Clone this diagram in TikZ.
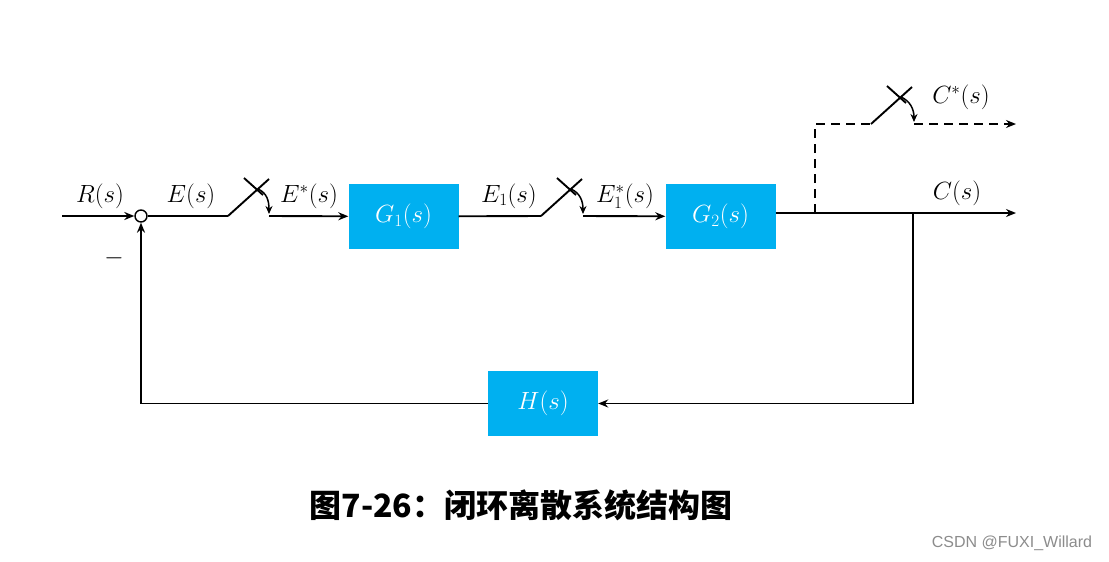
\documentclass[tikz,border=0pt]{standalone}
\usepackage{fontspec}
\newfontfamily\cjk{Noto Sans CJK SC}
\newfontfamily\wmfont{Liberation Sans}
\usetikzlibrary{arrows.meta, positioning, calc}
\definecolor{boxblue}{RGB}{0,176,240}

\begin{document}
\begin{tikzpicture}[
    x=1pt, y=-1pt,
    block/.style={rectangle, fill=boxblue, minimum width=110pt, minimum height=65pt, text=white, font=\fontsize{25}{29}\selectfont},
    lbl/.style={font=\fontsize{25}{29}\selectfont},
    sum/.style={draw, circle, line width=1.4pt, minimum size=12pt, inner sep=0pt},
    line/.style={line width=1.9pt},
    arrow/.style={-{Stealth[length=10pt,width=8pt]}, line width=1.9pt},
    swarrow/.style={-{Stealth[length=8pt,width=7pt]}, line width=1.5pt},
    dashline/.style={dash pattern=on 9pt off 6pt}
]
    \fill[white] (0,0) rectangle (1109,562);
    \useasboundingbox (0,0) rectangle (1109,562);

    % Nodes
    \node[sum] (sum) at (141,216) {};
    \node[block] (g1) at (403.5,216.5) {$G_1(s)$};
    \node[block] (g2) at (720.5,216.5) {$G_2(s)$};
    \node[block] (h) at (543,403.5) {$H(s)$};

    \coordinate (in) at (62,216);
    \coordinate (sw1-a) at (228,216);
    \coordinate (sw1-b) at (269,216);
    \coordinate (sw2-a) at (541,216);
    \coordinate (sw2-b) at (583,216);
    \coordinate (sw3-a) at (871,124);
    \coordinate (sw3-b) at (914,124);
    \coordinate (br) at (815,213);
    \coordinate (fb) at (913,213);
    \coordinate (out) at (1016,213);
    \coordinate (cstar) at (1016,124);

    % Samplers
    \foreach \s in {sw1,sw2,sw3} {
        \draw[line] (\s-a) -- ++(41,-37);
        \draw[line] ($(\s-a)+(16,-38)$) -- ++(19,17);
        \draw[swarrow] ($(\s-a)+(30,-27)$) .. controls ($(\s-a)+(39,-23)$) and ($(\s-b)+(0,-15)$) .. ($(\s-b)+(0,-2)$);
    }

    % Connections
    \draw[arrow] (in) -- (sum);
    \draw[line] (sum) -- (sw1-a);
    \draw[arrow] (sw1-b) -- (g1);
    \draw[line] (g1) -- (sw2-a);
    \draw[arrow] (sw2-b) -- (g2);
    \draw[arrow] (g2.east |- out) -- (out);
    \draw[line, dashline] (br) |- (sw3-a);
    \draw[arrow, dashline] (sw3-b) -- (cstar);
    \draw[arrow] (fb) |- (h);
    \draw[arrow] (h) -| (sum);

    % Labels
    \node[lbl] (rlbl) at (100,196) {$R(s)$};
    \node[lbl] (minus) at (114,258) {$-$};
    \node[lbl] (elbl) at (191,196) {$E(s)$};
    \node[lbl] (estar) at (309,196) {$E^*(s)$};
    \node[lbl] (e1lbl) at (509,196) {$E_1(s)$};
    \node[lbl] (e1star) at (625,196) {$E_1^*(s)$};
    \node[lbl] (clbl) at (957,193) {$C(s)$};
    \node[lbl] (cstarlbl) at (961,97) {$C^*(s)$};

    % Caption
    \node (title) at (521,505) {\cjk\bfseries\fontsize{32}{37}\selectfont 图7-26：闭环离散系统结构图};
    \node[text=black!45, font=\wmfont\fontsize{16}{19}\selectfont] (wm) at (1012,543) {CSDN @FUXI\_Willard};
\end{tikzpicture}
\end{document}
